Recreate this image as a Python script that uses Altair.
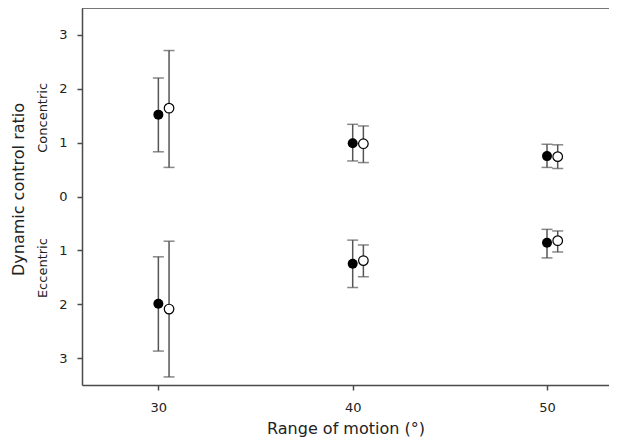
import altair as alt
import pandas as pd

# Range of motion (degrees)
rom = [30, 40, 50]

# Concentric (plotted positive)
con_filled_mean = [1.52, 0.99, 0.75]
con_filled_lo = [0.83, 0.66, 0.54]
con_filled_hi = [2.20, 1.34, 0.97]
con_open_mean = [1.64, 0.98, 0.74]
con_open_lo = [0.54, 0.63, 0.52]
con_open_hi = [2.71, 1.31, 0.96]

# Eccentric (plotted negative, labelled as absolute values)
ecc_filled_mean = [-1.99, -1.25, -0.86]
ecc_filled_lo = [-2.87, -1.69, -1.14]
ecc_filled_hi = [-1.12, -0.81, -0.61]
ecc_open_mean = [-2.09, -1.19, -0.82]
ecc_open_lo = [-3.35, -1.49, -1.03]
ecc_open_hi = [-0.83, -0.90, -0.64]

y_ticks = [-3, -2, -1, 0, 1, 2, 3]
x_ticks = [30, 40, 50]

rows = []
for group, phase, m, lo, hi in [
    ("filled", "Concentric", con_filled_mean, con_filled_lo, con_filled_hi),
    ("open", "Concentric", con_open_mean, con_open_lo, con_open_hi),
    ("filled", "Eccentric", ecc_filled_mean, ecc_filled_lo, ecc_filled_hi),
    ("open", "Eccentric", ecc_open_mean, ecc_open_lo, ecc_open_hi),
]:
    for r, a, b, c in zip(rom, m, lo, hi):
        rows.append({"rom": r, "group": group, "phase": phase, "mean": a, "lo": b, "hi": c})
df = pd.DataFrame(rows)

FONT = "DejaVu Sans"
AX = "#4a4a4a"
BAR = "#555555"
TXT = "#222222"
W, H = 527, 377

xs = alt.Scale(domain=[26.07, 53.19], nice=False, zero=False)
ys = alt.Scale(domain=[-3.5, 3.5], nice=False, zero=False)

x_enc = alt.X("xpos:Q", scale=xs, axis=alt.Axis(
    values=x_ticks, title="Range of motion (°)", format="d",
    labelPadding=11, titleFontSize=16, titleBaseline="alphabetic", titleY=48))
y_enc = alt.Y("mean:Q", scale=ys, axis=alt.Axis(
    values=y_ticks, labelExpr="abs(datum.value)", title="Dynamic control ratio",
    labelPadding=10, titleFontSize=16, titleBaseline="alphabetic", titleX=-59, titleY=181))

base = alt.Chart(df).transform_calculate(
    xpos="datum.rom + (datum.group === 'open' ? 0.55 : 0)"
)

bars = base.mark_rule(color=BAR, strokeWidth=1.5).encode(
    x=x_enc, y=alt.Y("lo:Q", scale=ys), y2="hi:Q")
cap_lo = base.mark_tick(orient="horizontal", color=BAR, size=11, thickness=1.5).encode(
    x=alt.X("xpos:Q", scale=xs), y=alt.Y("lo:Q", scale=ys))
cap_hi = base.mark_tick(orient="horizontal", color=BAR, size=11, thickness=1.5).encode(
    x=alt.X("xpos:Q", scale=xs), y=alt.Y("hi:Q", scale=ys))
pts_filled = base.transform_filter("datum.group === 'filled'").mark_circle(
    color="black", size=100, opacity=1).encode(x=alt.X("xpos:Q", scale=xs), y=y_enc)
pts_open = base.transform_filter("datum.group === 'open'").mark_circle(
    fill="white", stroke="black", strokeWidth=1.2, size=92, opacity=1).encode(
    x=alt.X("xpos:Q", scale=xs), y=alt.Y("mean:Q", scale=ys))

one = pd.DataFrame({"k": [0]})
top_rule = alt.Chart(one).mark_rule(color=AX, strokeWidth=1.5).encode(
    x=alt.value(0), x2=alt.value(W), y=alt.value(0))
lab_con = alt.Chart(one).mark_text(angle=270, font=FONT, fontSize=13, color=TXT,
                                   baseline="alphabetic").encode(
    x=alt.value(-35), y=alt.datum(1.46, scale=ys), text=alt.value("Concentric"))
lab_ecc = alt.Chart(one).mark_text(angle=270, font=FONT, fontSize=13, color=TXT,
                                   baseline="alphabetic").encode(
    x=alt.value(-35), y=alt.datum(-1.33, scale=ys), text=alt.value("Eccentric"))

chart = alt.layer(top_rule, bars, cap_lo, cap_hi, pts_filled, pts_open, lab_con, lab_ecc).properties(
    width=W, height=H,
    background="white",
    autosize=alt.AutoSizeParams(type="none"),
    padding={"left": 74, "top": 0, "right": 0, "bottom": 52},
).configure_view(stroke=None).configure_axis(
    grid=False, domainColor=AX, domainWidth=1.5, tickColor=AX, tickWidth=1.5, tickSize=5,
    labelFont=FONT, labelFontSize=13, labelColor=TXT,
    titleFont=FONT, titleFontWeight="normal", titleColor=TXT,
)

chart.save("out.html", embed_options={"renderer": "svg", "actions": False})
